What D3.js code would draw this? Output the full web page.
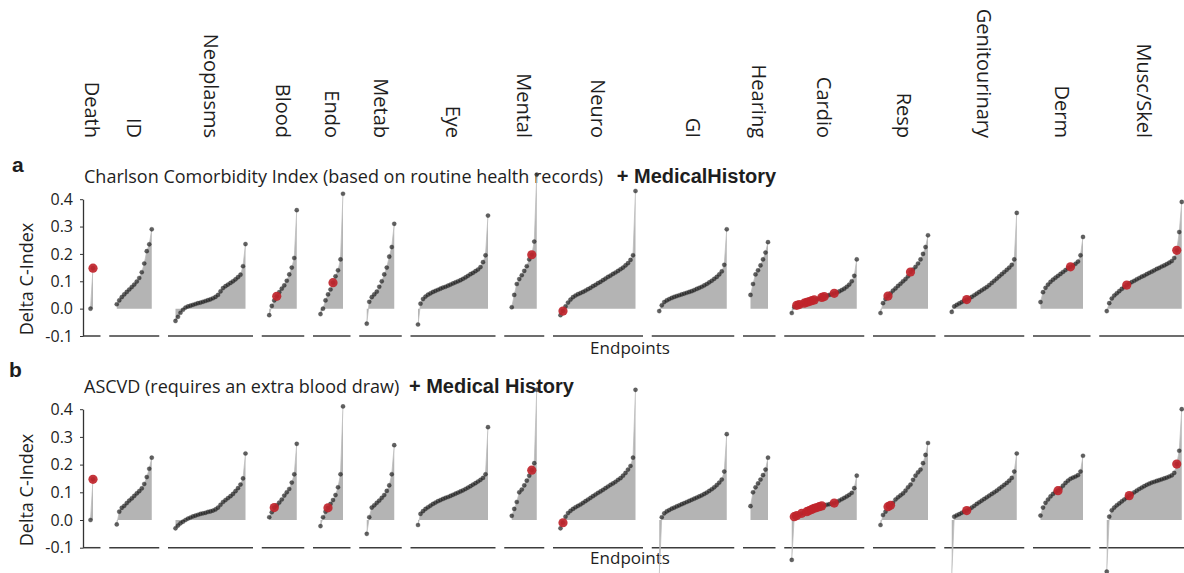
<!DOCTYPE html>
<html>
<head>
<meta charset="utf-8">
<script src="https://cdn.jsdelivr.net/npm/d3@7"></script>
<style>
  html, body { margin: 0; padding: 0; background: #fff; }
  svg { display: block; }
  text { font-family: 'Open Sans', sans-serif; fill: #1e1e1e; }
</style>
</head>
<body>
<div id="chart"></div>
<script>
// Endpoint groups (x categories)
const categories = ['Death', 'ID', 'Neoplasms', 'Blood', 'Endo', 'Metab', 'Eye', 'Mental',
    'Neuro', 'GI', 'Hearing', 'Cardio', 'Resp', 'Genitourinary', 'Derm', 'Musc/Skel'];

const yTicks = [-0.1, 0.0, 0.1, 0.2, 0.3, 0.4];

// Panel a: Charlson Comorbidity Index + MedicalHistory, sorted delta C-index per endpoint
const aDeath = [0.0, 0.148];
const aID = [0.016, 0.030, 0.042, 0.052, 0.061, 0.070, 0.079, 0.088, 0.099, 0.112, 0.133, 0.165, 0.210, 0.235, 0.290];
const aNeo = [-0.045, -0.030, -0.015, -0.004, 0.004, 0.008, 0.011, 0.014, 0.017, 0.020, 0.022, 0.025, 0.028, 0.031, 0.034,
    0.038, 0.043, 0.050, 0.063, 0.075, 0.082, 0.088, 0.094, 0.100, 0.107, 0.115, 0.124, 0.155, 0.236];
const aBlood = [-0.024, 0.010, 0.030, 0.045, 0.060, 0.073, 0.085, 0.102, 0.125, 0.150, 0.185, 0.360];
const aEndo = [-0.020, 0.000, 0.030, 0.052, 0.070, 0.095, 0.118, 0.140, 0.180, 0.420];
const aMetab = [-0.055, 0.025, 0.042, 0.052, 0.062, 0.080, 0.100, 0.125, 0.150, 0.190, 0.225, 0.310];
const aEye = [-0.058, 0.018, 0.035, 0.044, 0.051, 0.056, 0.061, 0.065, 0.069, 0.073, 0.077, 0.080, 0.084, 0.088, 0.092,
    0.096, 0.100, 0.104, 0.109, 0.114, 0.120, 0.126, 0.131, 0.137, 0.143, 0.152, 0.170, 0.195, 0.340];
const aMental = [0.005, 0.050, 0.090, 0.108, 0.122, 0.138, 0.155, 0.180, 0.197, 0.245, 0.490];
const aNeuro = [-0.024, -0.009, 0.008, 0.022, 0.033, 0.042, 0.048, 0.053, 0.057, 0.061, 0.066, 0.071, 0.076, 0.082, 0.087,
    0.093, 0.098, 0.104, 0.110, 0.116, 0.121, 0.127, 0.132, 0.138, 0.144, 0.150, 0.158, 0.166, 0.178, 0.195, 0.430];
const aGI = [-0.009, 0.012, 0.024, 0.030, 0.035, 0.039, 0.043, 0.046, 0.049, 0.052, 0.055, 0.058, 0.061, 0.064,
    0.068, 0.072, 0.076, 0.080, 0.085, 0.090, 0.096, 0.102, 0.109, 0.116, 0.125, 0.136, 0.160, 0.290];
const aHearing = [0.050, 0.090, 0.125, 0.140, 0.158, 0.180, 0.205, 0.243];
const aCardio = [-0.016, 0.005, 0.012, 0.015, 0.017, 0.020, 0.023, 0.026, 0.029, 0.032, 0.035, 0.038, 0.041, 0.044,
    0.047, 0.050, 0.053, 0.056, 0.059, 0.063, 0.068, 0.073, 0.080, 0.088, 0.100, 0.120, 0.180];
const aResp = [-0.016, 0.020, 0.035, 0.046, 0.056, 0.066, 0.074, 0.083, 0.091, 0.100, 0.108, 0.118, 0.134, 0.143,
    0.153, 0.165, 0.180, 0.200, 0.225, 0.268];
const aGenito = [-0.012, 0.008, 0.014, 0.019, 0.024, 0.029, 0.033, 0.038, 0.043, 0.049, 0.055, 0.061, 0.067, 0.073,
    0.079, 0.086, 0.094, 0.102, 0.110, 0.118, 0.126, 0.134, 0.142, 0.150, 0.160, 0.180, 0.350];
const aDerm = [0.024, 0.060, 0.076, 0.088, 0.098, 0.106, 0.113, 0.120, 0.127, 0.134, 0.141, 0.148, 0.153, 0.158,
    0.164, 0.172, 0.195, 0.262];
const aMusc = [-0.009, 0.020, 0.037, 0.048, 0.056, 0.064, 0.072, 0.079, 0.086, 0.092, 0.097, 0.102, 0.107, 0.112, 0.117,
    0.121, 0.126, 0.131, 0.135, 0.140, 0.145, 0.149, 0.154, 0.158, 0.163, 0.168, 0.174, 0.185, 0.213, 0.280, 0.390];

// Panel b: ASCVD + Medical History
const bDeath = [0.0, 0.147];
const bID = [-0.016, 0.030, 0.044, 0.051, 0.061, 0.070, 0.078, 0.087, 0.096, 0.104, 0.114, 0.130, 0.155, 0.185, 0.225];
const bNeo = [-0.030, -0.020, -0.012, -0.006, 0.000, 0.005, 0.009, 0.013, 0.016, 0.019, 0.022, 0.024, 0.026, 0.029, 0.031,
    0.034, 0.038, 0.045, 0.055, 0.065, 0.072, 0.079, 0.086, 0.094, 0.104, 0.115, 0.128, 0.150, 0.240];
const bBlood = [0.010, 0.028, 0.045, 0.053, 0.063, 0.074, 0.088, 0.100, 0.112, 0.135, 0.165, 0.275];
const bEndo = [-0.022, 0.010, 0.030, 0.044, 0.058, 0.072, 0.090, 0.118, 0.165, 0.410];
const bMetab = [-0.050, 0.010, 0.045, 0.053, 0.062, 0.070, 0.080, 0.090, 0.105, 0.125, 0.165, 0.270];
const bEye = [-0.018, 0.022, 0.032, 0.040, 0.046, 0.052, 0.058, 0.063, 0.068, 0.072, 0.076, 0.080, 0.083, 0.087, 0.091,
    0.095, 0.099, 0.103, 0.107, 0.112, 0.117, 0.122, 0.128, 0.133, 0.139, 0.145, 0.152, 0.165, 0.335];
const bMental = [0.015, 0.040, 0.065, 0.100, 0.110, 0.125, 0.142, 0.160, 0.180, 0.205, 0.470];
const bNeuro = [-0.030, -0.010, 0.012, 0.025, 0.033, 0.040, 0.046, 0.051, 0.056, 0.062, 0.068, 0.074, 0.080, 0.086, 0.092,
    0.098, 0.103, 0.109, 0.115, 0.121, 0.127, 0.132, 0.138, 0.145, 0.151, 0.160, 0.170, 0.182, 0.195, 0.225, 0.470];
const bGI = [-0.200, 0.010, 0.024, 0.031, 0.036, 0.041, 0.045, 0.049, 0.053, 0.057, 0.061, 0.065, 0.069, 0.073,
    0.077, 0.081, 0.085, 0.089, 0.094, 0.099, 0.105, 0.111, 0.118, 0.126, 0.135, 0.146, 0.175, 0.310];
const bHearing = [0.050, 0.100, 0.118, 0.132, 0.146, 0.162, 0.182, 0.225];
const bCardio = [-0.144, 0.012, 0.016, 0.020, 0.024, 0.027, 0.030, 0.034, 0.038, 0.042, 0.045, 0.048, 0.051, 0.053,
    0.055, 0.057, 0.059, 0.061, 0.065, 0.070, 0.075, 0.080, 0.085, 0.091, 0.098, 0.115, 0.160];
const bResp = [-0.018, 0.018, 0.030, 0.048, 0.053, 0.062, 0.074, 0.082, 0.089, 0.096, 0.106, 0.118, 0.128, 0.145,
    0.160, 0.172, 0.182, 0.205, 0.235, 0.278];
const bGenito = [-0.200, 0.012, 0.017, 0.021, 0.026, 0.030, 0.034, 0.039, 0.045, 0.051, 0.058, 0.064, 0.070, 0.076,
    0.082, 0.088, 0.094, 0.100, 0.106, 0.113, 0.120, 0.127, 0.134, 0.142, 0.152, 0.175, 0.240];
const bDerm = [0.016, 0.045, 0.062, 0.074, 0.085, 0.094, 0.101, 0.106, 0.114, 0.124, 0.134, 0.142, 0.149, 0.153,
    0.157, 0.162, 0.175, 0.232];
const bMusc = [-0.186, 0.012, 0.035, 0.045, 0.053, 0.060, 0.067, 0.074, 0.081, 0.088, 0.094, 0.100, 0.106, 0.112, 0.117,
    0.122, 0.127, 0.131, 0.135, 0.138, 0.141, 0.144, 0.147, 0.150, 0.153, 0.157, 0.161, 0.170, 0.202, 0.250, 0.400];

// highlighted (red) endpoints: index into each sorted group
const redA = [[1], [], [], [3], [5], [], [], [8], [1], [], [], [2, 3, 5, 6, 7, 8, 9, 12, 13, 17], [3, 12], [6], [12], [8, 28]];
const redB = [[1], [], [], [2], [3], [], [], [8], [1], [], [], [1, 2, 4, 6, 7, 8, 9, 10, 11, 12, 17], [3, 4], [6], [7], [9, 28]];

const seriesA = [aDeath, aID, aNeo, aBlood, aEndo, aMetab, aEye, aMental, aNeuro, aGI, aHearing, aCardio, aResp, aGenito, aDerm, aMusc];
const seriesB = [bDeath, bID, bNeo, bBlood, bEndo, bMetab, bEye, bMental, bNeuro, bGI, bHearing, bCardio, bResp, bGenito, bDerm, bMusc];

const titleA = ['Charlson Comorbidity Index (based on routine health records)', '+ MedicalHistory'];
const titleB = ['ASCVD (requires an extra blood draw)', '+ Medical History'];

const width = 1184, height = 573;
const svg = d3.select('#chart').append('svg')
    .attr('width', width)
    .attr('height', height);

// x layout: every endpoint gets one rank unit, groups padded and separated
const PAD_U = 3, GAP_U = 3.5, PX_PER_U = 2.5, LEFT = 83;
let cursor = 0;
const layout = categories.map((c, i) => {
    const n = seriesA[i].length;
    const segStart = cursor;
    const first = segStart + PAD_U;
    const last = first + n - 1;
    const segEnd = last + PAD_U;
    cursor = segEnd + GAP_U;
    return { c, segStart, first, last, segEnd };
});
const totalU = cursor - GAP_U;
const x = d3.scaleLinear().domain([0, totalU]).range([LEFT, LEFT + totalU * PX_PER_U]);

// category labels on top
svg.append('g').selectAll('text')
    .data(layout)
    .enter()
    .append('text')
    .attr('transform', d => `translate(${x((d.segStart + d.segEnd) / 2)},138) rotate(90)`)
    .attr('text-anchor', 'end')
    .attr('dy', '0.35em')
    .style('font-size', '20px')
    .text(d => d.c);

const panels = [
    { letter: 'a', series: seriesA, red: redA, title: titleA, yRange: [336, 199.2],
      letterX: 12, letterY: 172, titleY: 183, boldDx: 8, ylabelY: 279, endY: 354 },
    { letter: 'b', series: seriesB, red: redB, title: titleB, yRange: [547.7, 409.2],
      letterX: 9, letterY: 377, titleY: 393, boldDx: 4, ylabelY: 490, endY: 564 }
];

panels.forEach(p => {
    const y = d3.scaleLinear().domain([-0.1, 0.4]).range(p.yRange);
    const g = svg.append('g');

    // panel letter and title
    g.append('text')
        .attr('x', p.letterX)
        .attr('y', p.letterY)
        .style('font-family', "'Liberation Sans', Arial, sans-serif")
        .style('font-weight', 'bold')
        .style('font-size', '21px')
        .text(p.letter);

    const title = g.append('text')
        .attr('x', 84)
        .attr('y', p.titleY)
        .style('font-size', '18px');
    title.append('tspan').text(p.title[0]);
    title.append('tspan')
        .attr('dx', p.boldDx)
        .style('font-family', "'Liberation Sans', Arial, sans-serif")
        .style('font-weight', 'bold')
        .style('font-size', '20px')
        .text(' ' + p.title[1]);

    // y axis
    const axis = g.append('g')
        .attr('transform', `translate(${LEFT},0)`)
        .call(d3.axisLeft(y).tickValues(yTicks).tickSize(3).tickSizeOuter(0).tickPadding(7)
            .tickFormat(d => d.toFixed(1)));
    axis.select('.domain').attr('stroke', '#333').attr('stroke-width', 1.3);
    axis.selectAll('.tick line').attr('stroke', '#333');
    axis.selectAll('.tick text')
        .style('font-family', "'Open Sans', sans-serif")
        .style('font-size', '16px')
        .attr('fill', '#1e1e1e');

    g.append('text')
        .attr('transform', `translate(33,${p.ylabelY}) rotate(-90)`)
        .attr('text-anchor', 'middle')
        .style('font-size', '18px')
        .text('Delta C-Index');

    g.append('text')
        .attr('x', 630)
        .attr('y', p.endY)
        .attr('text-anchor', 'middle')
        .style('font-size', '17px')
        .text('Endpoints');

    layout.forEach((L, i) => {
        const vals = p.series[i];
        const px = (d, k) => x(L.first + k);

        // group baseline
        g.append('line')
            .attr('x1', x(L.segStart))
            .attr('x2', x(L.segEnd))
            .attr('y1', y(-0.1))
            .attr('y2', y(-0.1))
            .attr('stroke', '#3c3c3c')
            .attr('stroke-width', 1.5);

        const area = d3.area().x(px).y0(y(0)).y1(d => y(d));
        g.append('path')
            .datum(vals)
            .attr('d', area)
            .attr('fill', '#b4b4b4');

        const line = d3.line().x(px).y(d => y(d));
        g.append('path')
            .datum(vals)
            .attr('d', line)
            .attr('fill', 'none')
            .attr('stroke', '#bdbdbd')
            .attr('stroke-width', 0.8);

        g.append('g').selectAll('circle')
            .data(vals)
            .enter()
            .append('circle')
            .attr('cx', px)
            .attr('cy', d => y(d))
            .attr('r', 2.1)
            .attr('fill', '#262626')
            .attr('fill-opacity', 0.72)
            .attr('stroke', '#1e1e1e')
            .attr('stroke-opacity', 0.5)
            .attr('stroke-width', 0.5);

        g.append('g').selectAll('circle')
            .data(p.red[i])
            .enter()
            .append('circle')
            .attr('cx', k => x(L.first + k))
            .attr('cy', k => y(vals[k]))
            .attr('r', 4.6)
            .attr('fill', '#c0242b')
            .attr('fill-opacity', 0.92);
    });
});
</script>
</body>
</html>
